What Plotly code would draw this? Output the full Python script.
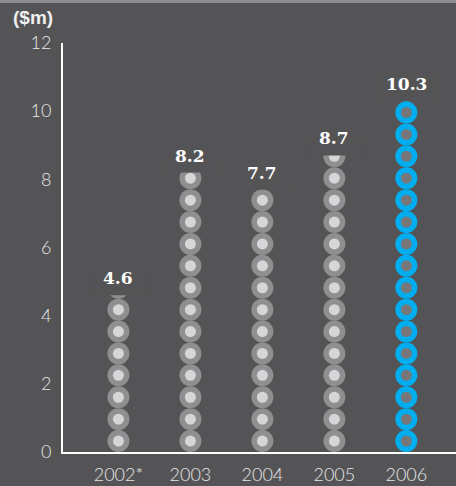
import math
import plotly.graph_objects as go

# ---- data ----
years = ["2002*", "2003", "2004", "2005", "2006"]
values = [4.6, 8.2, 7.7, 8.7, 10.3]
value_labels = ["4.6", "8.2", "7.7", "8.7", "10.3"]
highlight = [False, False, False, False, True]
y_ticks = [0, 2, 4, 6, 8, 10, 12]

# ---- style ----
BG = "#545456"
STRIP = "#8c8c8e"
RING_GRAY = "#8f8f91"
DOT_GRAY = "#d6d6d8"
RING_BLUE = "#00aeef"
DOT_BLUE = "#77777a"
STEP = 0.6426  # height of one circle in data units

W, H = 456, 486
ML, MR, MT, MB = 63, 0, 43, 34
pw = W - ML - MR
ph = H - MT - MB

fig = go.Figure()

shapes = []
for i, (yr, v, hl) in enumerate(zip(years, values, highlight)):
    n = math.ceil(v / STEP - 1e-9)
    ys = [(k + 0.5) * STEP for k in range(n)]
    xs = [i] * n
    fig.add_trace(go.Scatter(
        x=xs, y=ys, mode="markers", hoverinfo="skip", showlegend=False,
        marker=dict(size=22, color=RING_BLUE if hl else RING_GRAY, line=dict(width=0)),
        cliponaxis=False,
    ))
    fig.add_trace(go.Scatter(
        x=xs, y=ys, mode="markers", hoverinfo="skip", showlegend=False,
        marker=dict(size=11, color=DOT_BLUE if hl else DOT_GRAY, line=dict(width=0)),
        cliponaxis=False,
    ))
    top = n * STEP
    if top > v:
        shapes.append(dict(type="rect", xref="x", yref="y", x0=i - 0.4, x1=i + 0.4,
                           y0=v, y1=top + 0.05, fillcolor=BG, line=dict(width=0), layer="above"))

annotations = []
for i, (v, lab) in enumerate(zip(values, value_labels)):
    annotations.append(dict(
        x=i, y=v, xref="x", yref="y", text=lab, showarrow=False,
        yanchor="bottom", xanchor="center", yshift=5,
        font=dict(family="DejaVu Serif", size=17, color="#ffffff", weight="bold"),
    ))
annotations.append(dict(
    xref="paper", yref="paper", x=(11 - ML) / pw, y=1 + (MT - 17) / ph,
    xanchor="left", yanchor="middle", text="($m)", showarrow=False,
    font=dict(family="Liberation Sans", size=19, color="#f0f0f0", weight="bold"),
))

shapes.append(dict(type="rect", xref="paper", yref="paper", x0=-ML / pw, x1=1.01,
                   y0=1 + (MT - 3) / ph, y1=1 + (MT + 2) / ph,
                   fillcolor=STRIP, line=dict(width=0), layer="below"))

fig.update_layout(
    width=W, height=H,
    margin=dict(l=ML, r=MR, t=MT, b=MB, pad=0, autoexpand=False),
    paper_bgcolor=BG, plot_bgcolor=BG,
    shapes=shapes, annotations=annotations,
    xaxis=dict(
        tickmode="array", tickvals=list(range(len(years))), ticktext=years,
        range=[-0.77, 4.69], showline=True, linecolor="#ffffff", linewidth=2,
        showgrid=False, zeroline=False, ticks="", ticklabelstandoff=5,
        tickfont=dict(family="Lato", size=18, color="#e6e6e6", weight=300),
        fixedrange=True,
    ),
    yaxis=dict(
        range=[0, 12], tickvals=y_ticks, ticktext=[str(t) for t in y_ticks],
        showline=True, linecolor="#ffffff", linewidth=2,
        showgrid=False, zeroline=False, ticks="", ticklabelstandoff=6,
        tickfont=dict(family="Lato", size=18, color="#e6e6e6", weight=300),
        fixedrange=True,
    ),
)

fig.write_html("out.html", config={"displayModeBar": False},
               post_script="document.body.style.margin='0px';document.body.style.background='%s';" % BG)
